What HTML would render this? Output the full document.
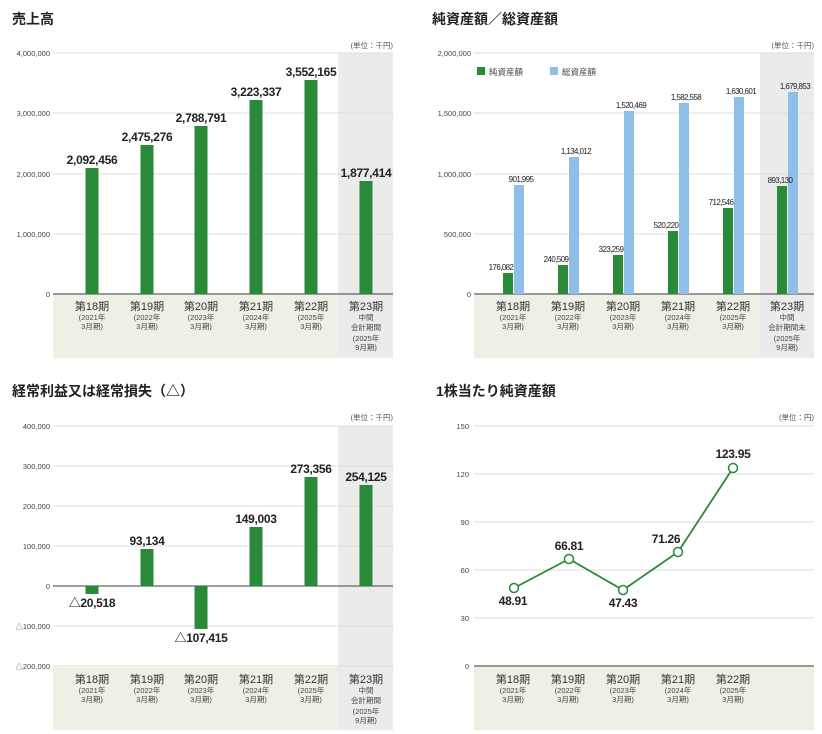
<!DOCTYPE html>
<html><head><meta charset="utf-8"><style>
body{margin:0;background:#fff;}
svg{display:block;font-family:"Liberation Sans","Noto Sans CJK JP",sans-serif;}
.t{font-size:14px;font-weight:bold;fill:#222;}
.ax{font-size:7.5px;fill:#444;text-anchor:end;}
.u{font-size:7.5px;fill:#555;text-anchor:end;}
.v{font-size:12px;font-weight:bold;fill:#222;text-anchor:middle;letter-spacing:-0.3px;}
.s{font-size:8px;fill:#222;text-anchor:middle;letter-spacing:-0.6px;}
.c1{font-size:11px;fill:#333;text-anchor:middle;}
.c2{font-size:7.5px;fill:#444;text-anchor:middle;}
.g{stroke:#dcdcdc;stroke-width:1;}
.b{fill:#2a8a3a;}
.bl{fill:#8fbfe8;}
</style></head><body>
<svg width="822" height="734" viewBox="0 0 822 734">
<!-- Chart 1 -->
<text class="t" x="12" y="24">売上高</text>
<rect x="53" y="295" width="340" height="63" fill="#eef0e6"/>
<rect x="338" y="53" width="55" height="305" fill="#ebebeb"/>
<text class="u" x="393" y="48">(単位：千円)</text>
<g class="g"><line x1="53" x2="393" y1="53" y2="53"/><line x1="53" x2="393" y1="113" y2="113"/><line x1="53" x2="393" y1="174" y2="174"/><line x1="53" x2="393" y1="234" y2="234"/></g>
<line x1="53" x2="393" y1="294" y2="294" stroke="#777" stroke-width="1.5"/>
<g class="ax"><text x="50" y="56">4,000,000</text><text x="50" y="116">3,000,000</text><text x="50" y="177">2,000,000</text><text x="50" y="237">1,000,000</text><text x="50" y="297">0</text></g>
<rect class="b" x="85.5" y="168" width="13" height="126"/>
<rect class="b" x="140.5" y="145" width="13" height="149"/>
<rect class="b" x="194.5" y="126" width="13" height="168"/>
<rect class="b" x="249.5" y="100" width="13" height="194"/>
<rect class="b" x="304.5" y="80" width="13" height="214"/>
<rect class="b" x="359.5" y="181" width="13" height="113"/>
<text class="v" x="92" y="164">2,092,456</text>
<text class="v" x="147" y="141">2,475,276</text>
<text class="v" x="201" y="122">2,788,791</text>
<text class="v" x="256" y="96">3,223,337</text>
<text class="v" x="311" y="76">3,552,165</text>
<text class="v" x="366" y="177">1,877,414</text>
<g>
<text class="c1" x="92" y="310">第18期</text><text class="c2" x="92" y="320">(2021年</text><text class="c2" x="92" y="329">3月期)</text>
<text class="c1" x="147" y="310">第19期</text><text class="c2" x="147" y="320">(2022年</text><text class="c2" x="147" y="329">3月期)</text>
<text class="c1" x="201" y="310">第20期</text><text class="c2" x="201" y="320">(2023年</text><text class="c2" x="201" y="329">3月期)</text>
<text class="c1" x="256" y="310">第21期</text><text class="c2" x="256" y="320">(2024年</text><text class="c2" x="256" y="329">3月期)</text>
<text class="c1" x="311" y="310">第22期</text><text class="c2" x="311" y="320">(2025年</text><text class="c2" x="311" y="329">3月期)</text>
<text class="c1" x="366" y="310">第23期</text><text class="c2" x="366" y="320">中間</text><text class="c2" x="366" y="330">会計期間</text><text class="c2" x="366" y="341">(2025年</text><text class="c2" x="366" y="350">9月期)</text>
</g>

<!-- Chart 2 -->
<text class="t" x="432" y="24">純資産額／総資産額</text>
<rect x="474" y="295" width="340" height="63" fill="#eef0e6"/>
<rect x="760" y="53" width="54" height="305" fill="#ebebeb"/>
<text class="u" x="814" y="48">(単位：千円)</text>
<g class="g"><line x1="474" x2="814" y1="53" y2="53"/><line x1="474" x2="814" y1="113" y2="113"/><line x1="474" x2="814" y1="174" y2="174"/><line x1="474" x2="814" y1="234" y2="234"/></g>
<line x1="474" x2="814" y1="294" y2="294" stroke="#777" stroke-width="1.5"/>
<g class="ax"><text x="471" y="56">2,000,000</text><text x="471" y="116">1,500,000</text><text x="471" y="177">1,000,000</text><text x="471" y="237">500,000</text><text x="471" y="297">0</text></g>
<rect class="b" x="477" y="67" width="8" height="8"/><text x="489" y="75" style="font-size:8.5px;fill:#444">純資産額</text>
<rect class="bl" x="550" y="67" width="8" height="8"/><text x="562" y="75" style="font-size:8.5px;fill:#444">総資産額</text>
<rect class="b" x="503" y="273" width="10" height="21"/><rect class="bl" x="514" y="185" width="10" height="109"/>
<rect class="b" x="558" y="265" width="10" height="29"/><rect class="bl" x="569" y="157" width="10" height="137"/>
<rect class="b" x="613" y="255" width="10" height="39"/><rect class="bl" x="624" y="111" width="10" height="183"/>
<rect class="b" x="668" y="231" width="10" height="63"/><rect class="bl" x="679" y="103" width="10" height="191"/>
<rect class="b" x="723" y="208" width="10" height="86"/><rect class="bl" x="734" y="97" width="10" height="197"/>
<rect class="b" x="777" y="186" width="10" height="108"/><rect class="bl" x="788" y="92" width="10" height="202"/>
<g class="s">
<text x="501" y="270">176,082</text><text x="521" y="182">901,995</text>
<text x="556" y="262">240,509</text><text x="576" y="154">1,134,012</text>
<text x="611" y="252">323,259</text><text x="631" y="108">1,520,469</text>
<text x="666" y="228">520,220</text><text x="686" y="100">1,582,558</text>
<text x="721" y="205">712,546</text><text x="741" y="94">1,630,601</text>
<text x="780" y="183">893,130</text><text x="795" y="89">1,679,853</text>
</g>
<g>
<text class="c1" x="513" y="310">第18期</text><text class="c2" x="513" y="320">(2021年</text><text class="c2" x="513" y="329">3月期)</text>
<text class="c1" x="568" y="310">第19期</text><text class="c2" x="568" y="320">(2022年</text><text class="c2" x="568" y="329">3月期)</text>
<text class="c1" x="623" y="310">第20期</text><text class="c2" x="623" y="320">(2023年</text><text class="c2" x="623" y="329">3月期)</text>
<text class="c1" x="678" y="310">第21期</text><text class="c2" x="678" y="320">(2024年</text><text class="c2" x="678" y="329">3月期)</text>
<text class="c1" x="733" y="310">第22期</text><text class="c2" x="733" y="320">(2025年</text><text class="c2" x="733" y="329">3月期)</text>
<text class="c1" x="787" y="310">第23期</text><text class="c2" x="787" y="320">中間</text><text class="c2" x="787" y="330">会計期間末</text><text class="c2" x="787" y="341">(2025年</text><text class="c2" x="787" y="350">9月期)</text>
</g>

<!-- Chart 3 -->
<text class="t" x="12" y="396">経常利益又は経常損失（△）</text>
<rect x="53" y="667" width="340" height="63" fill="#eef0e6"/>
<rect x="338" y="426" width="55" height="304" fill="#ebebeb"/>
<text class="u" x="393" y="420">(単位：千円)</text>
<g class="g"><line x1="53" x2="393" y1="426" y2="426"/><line x1="53" x2="393" y1="466" y2="466"/><line x1="53" x2="393" y1="506" y2="506"/><line x1="53" x2="393" y1="546" y2="546"/><line x1="53" x2="393" y1="626" y2="626"/><line x1="53" x2="393" y1="666" y2="666"/></g>
<line x1="53" x2="393" y1="586" y2="586" stroke="#666" stroke-width="1.2"/>
<g class="ax"><text x="50" y="429">400,000</text><text x="50" y="469">300,000</text><text x="50" y="509">200,000</text><text x="50" y="549">100,000</text><text x="50" y="589">0</text><text x="50" y="629">△100,000</text><text x="50" y="669">△200,000</text></g>
<rect class="b" x="85.5" y="586" width="13" height="8"/>
<rect class="b" x="140.5" y="549" width="13" height="37"/>
<rect class="b" x="194.5" y="586" width="13" height="43"/>
<rect class="b" x="249.5" y="527" width="13" height="59"/>
<rect class="b" x="304.5" y="477" width="13" height="109"/>
<rect class="b" x="359.5" y="485" width="13" height="101"/>
<text class="v" x="92" y="607">△20,518</text>
<text class="v" x="147" y="545">93,134</text>
<text class="v" x="201" y="642">△107,415</text>
<text class="v" x="256" y="523">149,003</text>
<text class="v" x="311" y="473">273,356</text>
<text class="v" x="366" y="481">254,125</text>
<g>
<text class="c1" x="92" y="683">第18期</text><text class="c2" x="92" y="693">(2021年</text><text class="c2" x="92" y="702">3月期)</text>
<text class="c1" x="147" y="683">第19期</text><text class="c2" x="147" y="693">(2022年</text><text class="c2" x="147" y="702">3月期)</text>
<text class="c1" x="201" y="683">第20期</text><text class="c2" x="201" y="693">(2023年</text><text class="c2" x="201" y="702">3月期)</text>
<text class="c1" x="256" y="683">第21期</text><text class="c2" x="256" y="693">(2024年</text><text class="c2" x="256" y="702">3月期)</text>
<text class="c1" x="311" y="683">第22期</text><text class="c2" x="311" y="693">(2025年</text><text class="c2" x="311" y="702">3月期)</text>
<text class="c1" x="366" y="683">第23期</text><text class="c2" x="366" y="693">中間</text><text class="c2" x="366" y="703">会計期間</text><text class="c2" x="366" y="714">(2025年</text><text class="c2" x="366" y="723">9月期)</text>
</g>

<!-- Chart 4 -->
<text class="t" x="436" y="396">1株当たり純資産額</text>
<rect x="474" y="667" width="340" height="63" fill="#eef0e6"/>
<text class="u" x="814" y="420">(単位：円)</text>
<g class="g"><line x1="474" x2="814" y1="426" y2="426"/><line x1="474" x2="814" y1="474" y2="474"/><line x1="474" x2="814" y1="522" y2="522"/><line x1="474" x2="814" y1="570" y2="570"/><line x1="474" x2="814" y1="618" y2="618"/></g>
<line x1="474" x2="814" y1="666" y2="666" stroke="#777" stroke-width="1.5"/>
<g class="ax"><text x="469" y="429">150</text><text x="469" y="477">120</text><text x="469" y="525">90</text><text x="469" y="573">60</text><text x="469" y="621">30</text><text x="469" y="669">0</text></g>
<polyline points="514,588 569,559 623,590 678,552 733,468" fill="none" stroke="#2a8a3a" stroke-width="1.8"/>
<g fill="#fff" stroke="#2a8a3a" stroke-width="1.5">
<circle cx="514" cy="588" r="4.5"/><circle cx="569" cy="559" r="4.5"/><circle cx="623" cy="590" r="4.5"/><circle cx="678" cy="552" r="4.5"/><circle cx="733" cy="468" r="4.5"/>
</g>
<text class="v" x="513" y="605">48.91</text>
<text class="v" x="569" y="550">66.81</text>
<text class="v" x="623" y="607">47.43</text>
<text class="v" x="666" y="543">71.26</text>
<text class="v" x="733" y="458">123.95</text>
<g>
<text class="c1" x="513" y="683">第18期</text><text class="c2" x="513" y="693">(2021年</text><text class="c2" x="513" y="702">3月期)</text>
<text class="c1" x="568" y="683">第19期</text><text class="c2" x="568" y="693">(2022年</text><text class="c2" x="568" y="702">3月期)</text>
<text class="c1" x="623" y="683">第20期</text><text class="c2" x="623" y="693">(2023年</text><text class="c2" x="623" y="702">3月期)</text>
<text class="c1" x="678" y="683">第21期</text><text class="c2" x="678" y="693">(2024年</text><text class="c2" x="678" y="702">3月期)</text>
<text class="c1" x="733" y="683">第22期</text><text class="c2" x="733" y="693">(2025年</text><text class="c2" x="733" y="702">3月期)</text>
</g>
</svg>
</body></html>
